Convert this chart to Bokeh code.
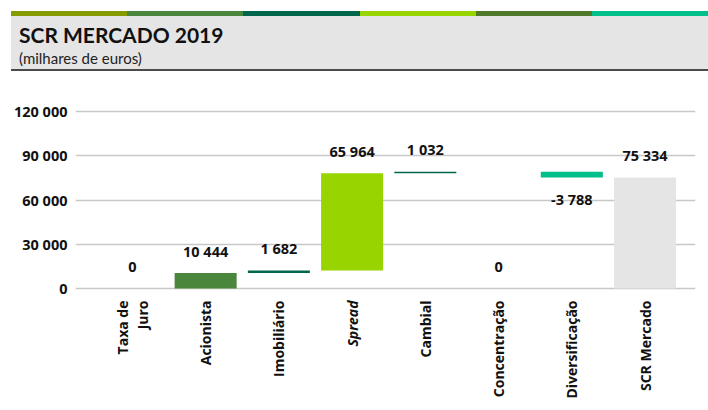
import numpy as np
from bokeh.plotting import figure
from bokeh.models import Div, Range1d, FixedTicker, ColumnDataSource
from bokeh.layouts import column
from bokeh.core.properties import value
from bokeh.embed import file_html
from bokeh.resources import INLINE

# ---- data ----
categories = ["Taxa de\nJuro", "Acionista", "Imobiliário", "Spread", "Cambial",
              "Concentração", "Diversificação", "SCR Mercado"]
values = [0, 10444, 1682, 65964, 1032, 0, -3788, 75334]
is_total = [False, False, False, False, False, False, False, True]
y_ticks = [0, 30000, 60000, 90000, 120000]
y_tick_labels = ["0", "30 000", "60 000", "90 000", "120 000"]

# ---- styles ----
bar_colors = ["#4a873c", "#4a873c", "#00674c", "#98d400", "#00674c",
              "#4e7a2a", "#00bf8a", "#e5e5e5"]
label_styles = ["bold", "bold", "bold", "bold italic", "bold", "bold", "bold", "bold"]
strip_colors = ["#869b00", "#4a873c", "#00674c", "#98d400", "#4e7a2a", "#00bf8a"]
TFONT = "Lato"
FONT = "Open Sans"

# ---- waterfall computation ----
bottoms, tops = [], []
run = 0
for v, t in zip(values, is_total):
    if t:
        bottoms.append(0)
        tops.append(v)
    else:
        bottoms.append(run)
        run += v
        tops.append(run)
xs = list(range(len(categories)))
lab_txt = [f"{v:,}".replace(",", " ") for v in values]
hi = [max(b, t) if v != 0 else 0 for b, t, v in zip(bottoms, tops, values)]
lo = [min(b, t) for b, t in zip(bottoms, tops)]

src = ColumnDataSource(dict(x=xs, bottom=bottoms, top=tops, color=bar_colors))
pos_idx = [i for i, v in enumerate(values) if v >= 0]
neg_idx = [i for i, v in enumerate(values) if v < 0]
pos_src = ColumnDataSource(dict(x=[xs[i] for i in pos_idx], y=[hi[i] for i in pos_idx],
                                lab=[lab_txt[i] for i in pos_idx]))
neg_src = ColumnDataSource(dict(x=[xs[i] for i in neg_idx], y=[lo[i] for i in neg_idx],
                                lab=[lab_txt[i] for i in neg_idx]))

# ---- header ----
strip = "".join(f'<div style="flex:1;background:{c};"></div>' for c in strip_colors)
header_html = f"""<div style="width:697px;height:71px;margin:0 0 0 11px;padding:11px 0 0 0;box-sizing:border-box;font-family:{TFONT};">
<div style="display:flex;height:5px;">{strip}</div>
<div style="background:#e5e5e5;height:53px;border-bottom:2px solid #4a4a4a;padding:0 0 0 8px;box-sizing:content-box;">
<div style="font-weight:bold;font-size:21px;line-height:21px;padding-top:8px;color:#111;">SCR MERCADO 2019</div>
<div style="font-size:15px;line-height:16px;padding-top:5px;color:#222;">(milhares de euros)</div>
</div></div>"""
header = Div(text=header_html, width=708, height=71, margin=0)

# ---- chart ----
p = figure(width=708, height=331, output_backend="svg", toolbar_location=None,
           x_range=Range1d(-0.777, 7.689), y_range=Range1d(-75932, 127458),
           min_border_left=75, min_border_right=13, min_border_top=29, min_border_bottom=2,
           margin=0)
p.outline_line_color = None
p.xaxis.visible = False
p.xgrid.grid_line_color = None
p.ygrid.grid_line_color = "#c8c8c8"
p.ygrid.grid_line_width = 1.5
p.yaxis.ticker = FixedTicker(ticks=y_ticks)
p.yaxis.major_label_overrides = dict(zip(y_ticks, y_tick_labels))
p.yaxis.axis_line_color = None
p.yaxis.major_tick_line_color = None
p.yaxis.major_tick_out = 0
p.yaxis.major_tick_in = 0
p.yaxis.minor_tick_line_color = None
p.yaxis.minor_tick_out = 0
p.yaxis.major_label_standoff = 8
p.yaxis.major_label_text_font = FONT
p.yaxis.major_label_text_font_style = "bold"
p.yaxis.major_label_text_font_size = "14.5px"
p.yaxis.major_label_text_color = "#111111"

p.vbar(x="x", width=0.847, bottom="bottom", top="top", fill_color="color",
       line_color=None, source=src)

p.text(x="x", y="y", text="lab", source=pos_src, y_offset=-22,
       text_align="center", text_baseline="middle", text_font=value(FONT),
       text_font_style="bold", text_font_size="14.5px", text_color="#111111")
p.text(x="x", y="y", text="lab", source=neg_src, y_offset=22,
       text_align="center", text_baseline="middle", text_font=value(FONT),
       text_font_style="bold", text_font_size="14.5px", text_color="#111111")

# category labels (rotated)
cat_src = ColumnDataSource(dict(x=xs, y=[0] * len(xs), cat=categories, style=label_styles))
p.text(x="x", y="y", text="cat", source=cat_src, y_offset=12, angle=np.pi / 2,
       text_align="right", text_baseline="middle", text_font=value(FONT),
       text_font_style="style", text_font_size="14px", text_color="#111111",
       text_line_height=1.05)

layout = column(header, p, spacing=0, margin=0)
open("out.html", "w").write(file_html(layout, INLINE))
